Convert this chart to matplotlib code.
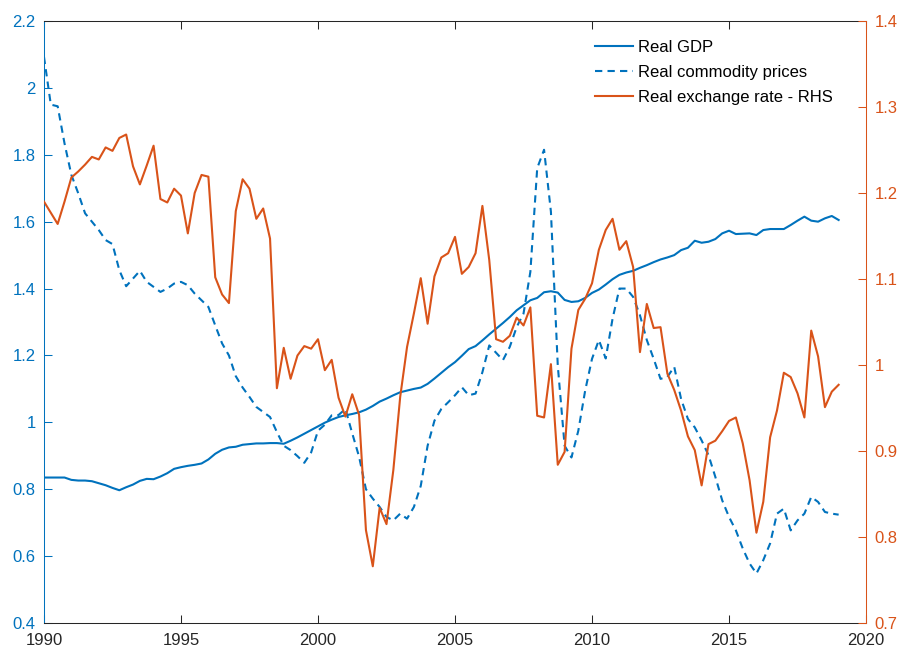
import matplotlib
matplotlib.use("Agg")
import matplotlib.pyplot as plt
import numpy as np

plt.rcParams['font.family'] = ['Liberation Sans', 'DejaVu Sans']
plt.rcParams['font.size'] = 12

# quarterly observations, 1990Q1 .. 2019Q1
quarters = 1990 + 0.25 * np.arange(117)

real_gdp = [
    0.835, 0.835, 0.835, 0.835,   # 1990
    0.828, 0.826, 0.826, 0.824,
    0.818, 0.812, 0.804, 0.797,
    0.806, 0.814, 0.825, 0.831,
    0.830, 0.838, 0.848, 0.861,
    0.866, 0.870, 0.873, 0.877,   # 1995
    0.889, 0.906, 0.918, 0.925,
    0.927, 0.933, 0.935, 0.937,
    0.937, 0.938, 0.938, 0.936,
    0.945, 0.955, 0.966, 0.977,
    0.988, 0.999, 1.008, 1.016,   # 2000
    1.021, 1.025, 1.030, 1.038,
    1.049, 1.062, 1.071, 1.081,
    1.090, 1.095, 1.100, 1.104,
    1.115, 1.131, 1.148, 1.165,
    1.180, 1.199, 1.219, 1.228,   # 2005
    1.245, 1.263, 1.280, 1.297,
    1.315, 1.335, 1.350, 1.365,
    1.372, 1.389, 1.392, 1.388,
    1.366, 1.360, 1.362, 1.372,
    1.387, 1.397, 1.412, 1.428,   # 2010
    1.441, 1.448, 1.453, 1.462,
    1.470, 1.479, 1.487, 1.493,
    1.500, 1.515, 1.522, 1.543,
    1.537, 1.540, 1.548, 1.565,
    1.573, 1.563, 1.564, 1.565,   # 2015
    1.560, 1.575, 1.578, 1.578,
    1.578, 1.590, 1.603, 1.615,
    1.603, 1.600, 1.610, 1.617,
    1.605,
]

real_commodity = [
    2.093, 1.950, 1.945, 1.834,   # 1990
    1.740, 1.685, 1.625, 1.600,
    1.575, 1.545, 1.533, 1.455,
    1.407, 1.430, 1.453, 1.420,
    1.405, 1.390, 1.400, 1.415,
    1.420, 1.410, 1.385, 1.365,   # 1995
    1.345, 1.290, 1.236, 1.200,
    1.138, 1.104, 1.076, 1.046,
    1.031, 1.016, 0.971, 0.930,
    0.917, 0.899, 0.879, 0.910,
    0.975, 0.993, 1.021, 1.022,   # 2000
    1.040, 0.967, 0.897, 0.800,
    0.772, 0.747, 0.717, 0.707,
    0.727, 0.712, 0.747, 0.810,
    0.930, 1.005, 1.040, 1.060,
    1.081, 1.105, 1.081, 1.086,   # 2005
    1.150, 1.230, 1.208, 1.186,
    1.226, 1.285, 1.325, 1.450,
    1.760, 1.815, 1.630, 1.170,
    0.930, 0.895, 0.975, 1.095,
    1.190, 1.246, 1.191, 1.310,   # 2010
    1.400, 1.400, 1.375, 1.320,
    1.246, 1.190, 1.130, 1.136,
    1.166, 1.070, 1.010, 0.985,
    0.946, 0.902, 0.837, 0.767,
    0.717, 0.677, 0.623, 0.578,   # 2015
    0.548, 0.588, 0.638, 0.727,
    0.742, 0.677, 0.707, 0.727,
    0.777, 0.762, 0.732, 0.727,
    0.724,
]

real_exchange_rate = [
    1.190, 1.177, 1.164, 1.190,   # 1990
    1.218, 1.225, 1.233, 1.242,
    1.239, 1.253, 1.249, 1.264,
    1.268, 1.231, 1.210, 1.232,
    1.255, 1.193, 1.189, 1.205,
    1.197, 1.153, 1.200, 1.221,   # 1995
    1.219, 1.102, 1.082, 1.072,
    1.179, 1.216, 1.205, 1.170,
    1.182, 1.147, 0.973, 1.020,
    0.984, 1.011, 1.022, 1.019,
    1.030, 0.994, 1.006, 0.962,   # 2000
    0.940, 0.966, 0.942, 0.808,
    0.766, 0.834, 0.815, 0.878,
    0.963, 1.021, 1.060, 1.101,
    1.048, 1.103, 1.125, 1.130,
    1.149, 1.106, 1.114, 1.130,   # 2005
    1.185, 1.122, 1.030, 1.027,
    1.034, 1.055, 1.046, 1.067,
    0.941, 0.939, 1.001, 0.884,
    0.899, 1.019, 1.064, 1.077,
    1.095, 1.134, 1.157, 1.170,   # 2010
    1.134, 1.144, 1.114, 1.015,
    1.071, 1.043, 1.044, 0.990,
    0.971, 0.947, 0.917, 0.901,
    0.860, 0.908, 0.912, 0.923,
    0.935, 0.939, 0.909, 0.866,   # 2015
    0.805, 0.841, 0.916, 0.947,
    0.991, 0.986, 0.967, 0.939,
    1.040, 1.010, 0.951, 0.969,
    0.977,
]

left_ticks = [0.4, 0.6, 0.8, 1.0, 1.2, 1.4, 1.6, 1.8, 2.0, 2.2]
right_ticks = [0.7, 0.8, 0.9, 1.0, 1.1, 1.2, 1.3, 1.4]
year_ticks = [1990, 1995, 2000, 2005, 2010, 2015, 2020]

blue = '#0072BD'
orange = '#D95319'
dark = '#262626'

fig = plt.figure(figsize=(9.01, 6.5), dpi=100)
ax = fig.add_axes([0.0488, 0.0415, 0.9124, 0.9262])
ax2 = ax.twinx()

l1, = ax.plot(quarters, real_gdp, color=blue, lw=1.5, label='Real GDP')
l2, = ax.plot(quarters, real_commodity, color=blue, lw=1.5,
              linestyle=(0, (3.5, 2.5)), label='Real commodity prices')
l3, = ax2.plot(quarters, real_exchange_rate, color=orange, lw=1.5,
               label='Real exchange rate - RHS')

ax.set_xlim(1990, 2020)
ax.set_ylim(0.4, 2.2)
ax2.set_ylim(0.7, 1.4)

ax.set_xticks(year_ticks)
ax.set_yticks(left_ticks)
ax.set_yticklabels([f'{v:g}' for v in left_ticks])
ax2.set_yticks(right_ticks)
ax2.set_yticklabels([f'{v:g}' for v in right_ticks])

ax.tick_params(axis='x', direction='in', top=True, length=6, width=0.75,
               color=dark, labelcolor=dark, pad=7, labelsize=12)
ax.tick_params(axis='y', direction='in', length=6, width=0.75,
               color=blue, labelcolor=blue, pad=6, labelsize=12)
ax2.tick_params(axis='y', direction='in', length=6, width=0.75,
                color=orange, labelcolor=orange, pad=6, labelsize=12)

for side in ['top', 'bottom']:
    ax.spines[side].set_color(dark)
    ax.spines[side].set_linewidth(0.75)
ax.spines['left'].set_color(blue)
ax.spines['left'].set_linewidth(0.75)
ax.spines['right'].set_visible(False)
for side in ['top', 'bottom', 'left']:
    ax2.spines[side].set_visible(False)
ax2.spines['right'].set_color(orange)
ax2.spines['right'].set_linewidth(0.75)

ax2.legend(handles=[l1, l2, l3], loc='upper left', bbox_to_anchor=(0.670, 0.968),
           frameon=False, borderpad=0, borderaxespad=0, handlelength=2.3,
           handletextpad=0.3, labelspacing=0.6, fontsize=12)

fig.savefig('out.png', dpi=100)
